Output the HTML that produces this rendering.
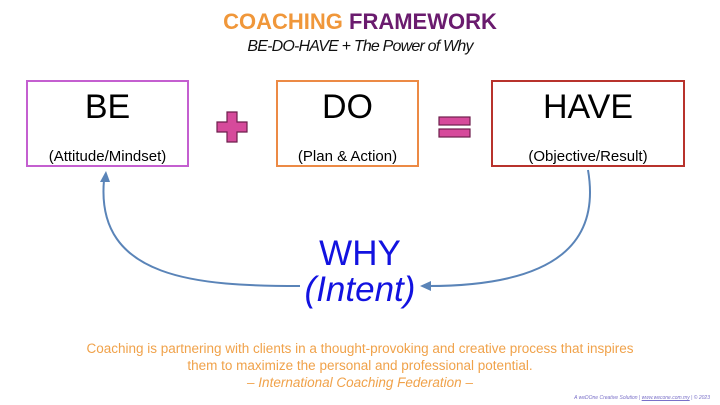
<!DOCTYPE html>
<html><head><meta charset="utf-8"><style>
body{margin:0;width:720px;height:405px;background:#fff;position:relative;overflow:hidden;font-family:"Liberation Sans",sans-serif}
.a{position:absolute}
.box{position:absolute;background:#fff;box-sizing:border-box;text-align:center}
.big{font-size:34px;position:absolute;left:0;right:0;top:6px}
.sm{font-size:15px;position:absolute;left:0;right:0;top:66px}
</style></head><body>
<div class="a" style="left:0;right:0;top:9px;text-align:center;font-weight:bold;font-size:22px"><span style="color:#f0973a">COACHING</span> <span style="color:#6a1b6e">FRAMEWORK</span></div>
<div class="a" style="left:0;right:0;top:38px;text-align:center;font-style:italic;font-size:16px;color:#111;letter-spacing:-0.8px">BE-DO-HAVE + The Power of Why</div>

<div class="box" style="left:26px;top:80px;width:163px;height:87px;border:2px solid #c45fd0"><div class="big">BE</div><div class="sm">(Attitude/Mindset)</div></div>
<div class="box" style="left:276px;top:80px;width:143px;height:87px;border:2px solid #ec8a45"><div class="big">DO</div><div class="sm">(Plan &amp; Action)</div></div>
<div class="box" style="left:491px;top:80px;width:194px;height:87px;border:2px solid #b8322c"><div class="big">HAVE</div><div class="sm">(Objective/Result)</div></div>

<svg class="a" style="left:0;top:0" width="720" height="405">
<path d="M227,112h10v10h10v10h-10v10h-10v-10h-10v-10h10z" fill="#d64a9b" stroke="#6e1e4c" stroke-width="1.2"/>
<rect x="439" y="117" width="31" height="8" fill="#d64a9b" stroke="#6e1e4c" stroke-width="1.2"/>
<rect x="439" y="129" width="31" height="8" fill="#d64a9b" stroke="#6e1e4c" stroke-width="1.2"/>
<path d="M588,170 C600,240 560,286 428,286" fill="none" stroke="#5a84b8" stroke-width="2"/>
<path d="M420,286 L431,281 L431,291 Z" fill="#5a84b8"/>
<path d="M300,286 C200,286 95,280 104,180" fill="none" stroke="#5a84b8" stroke-width="2"/>
<path d="M106,171 L100,182 L110,182 Z" fill="#5a84b8"/>
</svg>

<div class="a" style="left:0;right:0;top:236px;text-align:center;font-size:35px;color:#1212e0;line-height:36px">WHY<br><i>(Intent)</i></div>

<div class="a" style="left:0;right:0;top:340px;text-align:center;font-size:13.5px;color:#f0a24a;line-height:17px">Coaching is partnering with clients in a thought-provoking and creative process that inspires<br>them to maximize the personal and professional potential.<br><i>– International Coaching Federation –</i></div>
<div class="a" style="right:10px;top:395px;font-size:5px;color:#7a70c8;font-style:italic">A weDOne Creative Solution | <u>www.wecone.com.my</u> | © 2023</div>
</body></html>
